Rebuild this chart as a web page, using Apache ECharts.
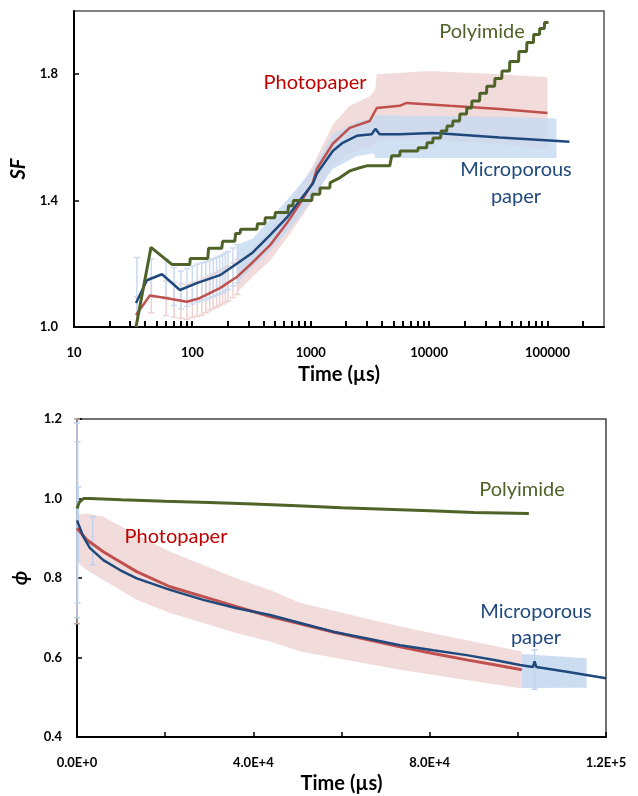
<!DOCTYPE html>
<html>
<head>
<meta charset="utf-8">
<script src="https://cdn.jsdelivr.net/npm/echarts@6/dist/echarts.min.js"></script>
<style>
html, body { margin: 0; padding: 0; background: #fff; }
#chart { width: 638px; height: 796px; }
</style>
</head>
<body>
<div id="chart"></div>
<script>
// ---- top panel: SF vs time (log axis, us) ----
var polyT = [33.4, 44.7, 67.1, 95, 96, 135, 137, 177, 180, 228, 232, 252, 256, 350, 355, 409, 413, 497, 502, 640, 650, 705, 715, 1019, 1030, 1191, 1200, 1446, 1460, 1757, 2134, 2592, 2971, 4645, 4830, 5641, 5700, 8000, 8100, 9530, 9600, 10700, 10800, 12500, 12600, 14060, 14200, 15800, 15900, 18080, 18200, 20710, 20800, 22840, 23000, 26690, 26800, 30550, 30700, 35730, 36000, 41000, 41300, 47780, 48000, 57000, 57300, 66500, 67000, 76000, 76500, 85560, 86000, 94000, 94500, 101900];
var polySF = [1.0, 1.252, 1.198, 1.198, 1.217, 1.217, 1.249, 1.249, 1.271, 1.271, 1.296, 1.296, 1.309, 1.309, 1.327, 1.327, 1.346, 1.346, 1.362, 1.362, 1.384, 1.384, 1.40, 1.40, 1.42, 1.42, 1.44, 1.44, 1.457, 1.472, 1.494, 1.504, 1.51, 1.51, 1.542, 1.542, 1.557, 1.557, 1.567, 1.567, 1.583, 1.583, 1.598, 1.598, 1.62, 1.62, 1.636, 1.636, 1.652, 1.652, 1.674, 1.674, 1.693, 1.693, 1.715, 1.715, 1.74, 1.74, 1.762, 1.762, 1.786, 1.786, 1.81, 1.81, 1.84, 1.84, 1.872, 1.872, 1.90, 1.90, 1.926, 1.926, 1.945, 1.945, 1.964, 1.964];

var microT = [33.4, 41.3, 55.3, 78.5, 109, 171, 237, 324, 451, 627, 807, 1040, 1124, 1534, 1863, 2445, 3270, 3515, 3820, 5640, 10700, 13000, 39400, 104000, 153000];
var microSF = [1.076, 1.148, 1.167, 1.117, 1.139, 1.164, 1.20, 1.236, 1.29, 1.346, 1.40, 1.453, 1.485, 1.557, 1.583, 1.605, 1.61, 1.627, 1.61, 1.61, 1.614, 1.612, 1.60, 1.59, 1.586];

var photoT = [33.4, 43.8, 61, 90, 115, 171, 237, 324, 451, 627, 807, 1040, 1124, 1534, 2134, 3150, 3610, 5640, 6440, 14900, 39400, 100000];
var photoSF = [1.038, 1.10, 1.091, 1.08, 1.091, 1.123, 1.158, 1.205, 1.258, 1.328, 1.39, 1.457, 1.50, 1.58, 1.63, 1.652, 1.693, 1.70, 1.709, 1.70, 1.69, 1.677];

// error bars (sparse, early times) and dense error region
var photoBarT = [34, 45, 60, 70, 80, 90, 100, 110, 120, 130, 140, 150, 160, 170, 180, 190, 200, 220, 240];
var photoBarLo = [0.985, 1.045, 1.036, 1.031, 1.027, 1.025, 1.03, 1.034, 1.038, 1.045, 1.052, 1.058, 1.063, 1.068, 1.073, 1.078, 1.083, 1.093, 1.103];
var photoBarHi = [1.095, 1.155, 1.146, 1.141, 1.137, 1.135, 1.14, 1.144, 1.148, 1.155, 1.162, 1.168, 1.173, 1.178, 1.183, 1.188, 1.193, 1.203, 1.213];
var microBarT = [34, 45, 60, 70, 80, 90, 100, 110, 120, 130, 140, 150, 160, 170, 180, 190, 200, 220, 240];
var microBarLo = [0.95, 1.095, 1.095, 1.068, 1.057, 1.065, 1.073, 1.079, 1.083, 1.087, 1.092, 1.096, 1.10, 1.104, 1.109, 1.114, 1.119, 1.13, 1.14];
var microBarHi = [1.22, 1.215, 1.215, 1.188, 1.177, 1.185, 1.193, 1.199, 1.203, 1.207, 1.212, 1.216, 1.22, 1.224, 1.229, 1.234, 1.239, 1.25, 1.26];

var photoBandT = [240, 324, 451, 627, 807, 1040, 1534, 2134, 3150, 3500, 3600, 10000, 40000, 100000];
var photoBandLo = [1.11, 1.16, 1.21, 1.28, 1.34, 1.40, 1.51, 1.55, 1.57, 1.58, 1.59, 1.59, 1.58, 1.56];
var photoBandHi = [1.21, 1.25, 1.31, 1.38, 1.44, 1.51, 1.64, 1.70, 1.73, 1.75, 1.80, 1.81, 1.80, 1.79];
var microBandT = [240, 324, 451, 627, 807, 1040, 1534, 2445, 3400, 3520, 40000, 119000];
var microBandLo = [1.14, 1.19, 1.24, 1.30, 1.35, 1.41, 1.50, 1.54, 1.55, 1.535, 1.535, 1.535];
var microBandHi = [1.26, 1.28, 1.34, 1.40, 1.45, 1.50, 1.61, 1.65, 1.66, 1.67, 1.665, 1.66];

// ---- bottom panel: phi vs time (linear, us) ----
var polyT2 = [0, 500, 1500, 3000, 10000, 20000, 30000, 40000, 50000, 60000, 70000, 80000, 90000, 102500];
var polyPhi = [0.975, 0.99, 1.0, 1.0, 0.997, 0.993, 0.99, 0.986, 0.982, 0.977, 0.973, 0.969, 0.965, 0.962];

var microT2 = [0, 300, 1430, 2950, 5970, 9750, 13540, 21100, 28650, 36230, 43780, 50600, 58100, 65800, 73270, 80800, 88400, 95000, 100500, 103400, 103800, 104200, 111100, 120000];
var microPhi = [0.945, 0.94, 0.904, 0.875, 0.845, 0.82, 0.799, 0.77, 0.745, 0.724, 0.707, 0.687, 0.665, 0.648, 0.631, 0.618, 0.606, 0.593, 0.581, 0.576, 0.59, 0.576, 0.564, 0.548];

var photoT2 = [0, 2200, 5970, 9750, 13540, 21100, 28650, 36230, 43780, 50600, 58100, 65800, 73270, 80800, 88400, 95000, 100900];
var photoPhi = [0.925, 0.896, 0.866, 0.841, 0.816, 0.778, 0.753, 0.728, 0.703, 0.685, 0.664, 0.645, 0.627, 0.61, 0.594, 0.581, 0.569];

var photoBand2T = [0, 2200, 5970, 13540, 21100, 28650, 36230, 43780, 50600, 73270, 100900];
var photoBand2Lo = [0.84, 0.82, 0.795, 0.745, 0.712, 0.687, 0.661, 0.64, 0.615, 0.569, 0.522];
var photoBand2Hi = [0.96, 0.962, 0.954, 0.908, 0.866, 0.833, 0.799, 0.77, 0.738, 0.678, 0.615];
var microBand2T = [100900, 115600];
var microBand2Lo = [0.523, 0.524];
var microBand2Hi = [0.609, 0.598];

var photoBar2T = [0];
var photoBar2Lo = [0.685];
var photoBar2Hi = [1.2];
var microBar2T = [0, 150, 300, 3560, 103800];
var microBar2Lo = [0.70, 0.737, 0.845, 0.833, 0.52];
var microBar2Hi = [1.19, 1.142, 1.029, 0.954, 0.619];

var GREEN = '#4F6228';
var RED = '#C0504D';
var BLUE = '#1F497D';
var PINK = '#F2DCDB';
var LIGHTBLUE = '#C6D9F1';
var FONT = 'Lato, "Open Sans", sans-serif';

function zip(a, b) {
  return a.map(function (v, i) { return [v, b[i]]; });
}
function errData(t, lo, hi) {
  return t.map(function (v, i) { return [v, lo[i], hi[i]]; });
}

function errBarItem(params, api) {
  var x = api.value(0);
  var lo = api.coord([x, api.value(1)]);
  var hi = api.coord([x, api.value(2)]);
  var c = api.visual('color');
  var w = 3;
  var st = { stroke: c, lineWidth: 1.5 };
  return {
    type: 'group',
    children: [
      { type: 'line', shape: { x1: lo[0], y1: lo[1], x2: hi[0], y2: hi[1] }, style: st },
      { type: 'line', shape: { x1: lo[0] - w, y1: lo[1], x2: lo[0] + w, y2: lo[1] }, style: st },
      { type: 'line', shape: { x1: hi[0] - w, y1: hi[1], x2: hi[0] + w, y2: hi[1] }, style: st }
    ]
  };
}

// shaded error region: one polygon through the band edges
function bandSeries(t, lo, hi, color, opacity, ax) {
  return {
    type: 'custom', xAxisIndex: ax, yAxisIndex: ax, silent: true, clip: true, z: 1,
    encode: { x: 0, y: 1 },
    data: [[t[0], lo[0]]],
    renderItem: function (params, api) {
      var pts = [];
      var i;
      for (i = 0; i < t.length; i++) pts.push(api.coord([t[i], hi[i]]));
      for (i = t.length - 1; i >= 0; i--) pts.push(api.coord([t[i], lo[i]]));
      return { type: 'polygon', shape: { points: pts }, style: { fill: color, opacity: opacity } };
    }
  };
}

// log ticks (decades and 2..9 minors) for the top time axis
var logTicks = [];
for (var d = 10; d <= 100000; d *= 10) {
  for (var m = 1; m <= 9; m++) {
    if (d * m < 300000) logTicks.push([d * m, 1]);
  }
}

function sciLabel(v) {
  if (v % 40000 !== 0) return '';
  if (v === 0) return '0.0E+0';
  var e = Math.floor(Math.log10(v));
  return (v / Math.pow(10, e)).toFixed(1) + 'E+' + e;
}

var axisLabelStyle = { color: '#000', fontFamily: FONT, fontSize: 13, fontWeight: 'bold' };
var axisNameStyle = { color: '#000', fontFamily: FONT, fontSize: 20, fontWeight: 'bold' };
var axisLineStyle = { show: true, onZero: false, lineStyle: { color: '#000', width: 2 } };
var tickStyle = { show: true, inside: true, length: 5, lineStyle: { color: '#000', width: 1.5 } };

var myChart = echarts.init(document.getElementById('chart'));

var series = [
  bandSeries(photoBandT, photoBandLo, photoBandHi, PINK, 1, 0),
  bandSeries(microBandT, microBandLo, microBandHi, LIGHTBLUE, 0.8, 0),
  bandSeries(photoBand2T, photoBand2Lo, photoBand2Hi, PINK, 1, 1),
  bandSeries(microBand2T, microBand2Lo, microBand2Hi, LIGHTBLUE, 0.9, 1),
  {
    type: 'custom', xAxisIndex: 0, yAxisIndex: 0, renderItem: errBarItem, clip: true, z: 2,
    itemStyle: { color: '#F0CFCF' }, encode: { x: 0, y: [1, 2] },
    data: errData(photoBarT, photoBarLo, photoBarHi)
  },
  {
    type: 'custom', xAxisIndex: 0, yAxisIndex: 0, renderItem: errBarItem, clip: true, z: 2,
    itemStyle: { color: '#C9DAF0' }, encode: { x: 0, y: [1, 2] },
    data: errData(microBarT, microBarLo, microBarHi)
  },
  {
    type: 'custom', xAxisIndex: 1, yAxisIndex: 1, renderItem: errBarItem, clip: false, z: 2,
    itemStyle: { color: '#C9A9A8' }, encode: { x: 0, y: [1, 2] },
    data: errData(photoBar2T, photoBar2Lo, photoBar2Hi)
  },
  {
    type: 'custom', xAxisIndex: 1, yAxisIndex: 1, renderItem: errBarItem, clip: false, z: 2,
    itemStyle: { color: '#BFD3EE' }, encode: { x: 0, y: [1, 2] },
    data: errData(microBar2T, microBar2Lo, microBar2Hi)
  },
  {
    type: 'custom', xAxisIndex: 0, yAxisIndex: 0, silent: true, clip: false, z: 20,
    itemStyle: { color: '#000' },
    renderItem: function (params, api) {
      var p = api.coord([api.value(0), api.value(1)]);
      return {
        type: 'rect',
        shape: { x: Math.round(p[0]) - 1, y: Math.round(p[1]) - 6, width: 2, height: 6 },
        style: { fill: '#000' }
      };
    },
    encode: { x: 0, y: 1 },
    data: logTicks
  },
  // top lines
  {
    name: 'Photopaper', type: 'line', xAxisIndex: 0, yAxisIndex: 0, data: zip(photoT, photoSF),
    symbol: 'none', z: 3, lineStyle: { color: RED, width: 2.5 }
  },
  {
    name: 'Microporous paper', type: 'line', xAxisIndex: 0, yAxisIndex: 0, data: zip(microT, microSF),
    symbol: 'none', z: 3, lineStyle: { color: BLUE, width: 2.5 }
  },
  {
    name: 'Polyimide', type: 'line', xAxisIndex: 0, yAxisIndex: 0, data: zip(polyT, polySF),
    symbol: 'none', z: 3, lineStyle: { color: GREEN, width: 3 }
  },
  // bottom lines
  {
    name: 'Photopaper', type: 'line', xAxisIndex: 1, yAxisIndex: 1, data: zip(photoT2, photoPhi),
    symbol: 'none', z: 3, lineStyle: { color: RED, width: 3 }
  },
  {
    name: 'Microporous paper', type: 'line', xAxisIndex: 1, yAxisIndex: 1, data: zip(microT2, microPhi),
    symbol: 'none', z: 3, lineStyle: { color: BLUE, width: 2.5 }
  },
  {
    name: 'Polyimide', type: 'line', xAxisIndex: 1, yAxisIndex: 1, data: zip(polyT2, polyPhi),
    symbol: 'none', z: 3, lineStyle: { color: GREEN, width: 3 }
  }
];

function txt(x, y, s, color) {
  return {
    type: 'text', x: x, y: y, z: 10,
    style: { text: s, fill: color, font: '20px ' + FONT, align: 'center', verticalAlign: 'middle' }
  };
}

var option = {
  animation: false,
  backgroundColor: '#fff',
  grid: [
    { left: 74, top: 11, width: 530, height: 316, show: true, borderColor: '#555', borderWidth: 1.5, backgroundColor: 'transparent' },
    { left: 77, top: 419, width: 529, height: 318, show: true, borderColor: '#444', borderWidth: 1.5, backgroundColor: 'transparent' }
  ],
  xAxis: [
    {
      gridIndex: 0, type: 'log', logBase: 10, min: 10, max: 300000,
      axisLine: axisLineStyle, axisTick: { show: false }, splitLine: { show: false },
      axisLabel: Object.assign({
        margin: 19,
        formatter: function (v) {
          var l = Math.log10(v);
          return Math.abs(l - Math.round(l)) < 1e-6 ? String(Math.round(v)) : '';
        }
      }, axisLabelStyle),
      name: 'Time (µs)', nameLocation: 'middle', nameGap: 38, nameTextStyle: axisNameStyle
    },
    {
      gridIndex: 1, type: 'value', min: 0, max: 120000, interval: 20000,
      axisLine: axisLineStyle, axisTick: tickStyle, splitLine: { show: false },
      axisLabel: Object.assign({ margin: 19, formatter: sciLabel }, axisLabelStyle),
      name: 'Time (µs)', nameLocation: 'middle', nameGap: 37, nameTextStyle: axisNameStyle
    }
  ],
  yAxis: [
    {
      gridIndex: 0, type: 'value', min: 1.0, max: 2.0, interval: 0.4,
      axisLine: axisLineStyle, axisTick: tickStyle, splitLine: { show: false },
      axisLabel: Object.assign({ margin: 16, showMaxLabel: false, formatter: function (v) { return v.toFixed(1); } }, axisLabelStyle),
      name: 'SF', nameLocation: 'middle', nameGap: 44, nameRotate: 90,
      nameTextStyle: Object.assign({}, axisNameStyle, { fontStyle: 'italic', fontSize: 20 })
    },
    {
      gridIndex: 1, type: 'value', min: 0.4, max: 1.2, interval: 0.2,
      axisLine: axisLineStyle, axisTick: tickStyle, splitLine: { show: false },
      axisLabel: Object.assign({ margin: 15, formatter: function (v) { return v.toFixed(1); } }, axisLabelStyle),
      name: 'ϕ', nameLocation: 'middle', nameGap: 46, nameRotate: 90,
      nameTextStyle: Object.assign({}, axisNameStyle, { fontStyle: 'italic', fontSize: 20 })
    }
  ],
  graphic: [
    txt(482, 32, 'Polyimide', GREEN),
    txt(315, 83, 'Photopaper', '#C00000'),
    txt(516, 170, 'Microporous', BLUE),
    txt(516, 197, 'paper', BLUE),
    txt(522, 490, 'Polyimide', GREEN),
    txt(176, 537, 'Photopaper', '#C00000'),
    txt(536, 612, 'Microporous', BLUE),
    txt(536, 638, 'paper', BLUE)
  ],
  series: series
};

myChart.setOption(option);
</script>
</body>
</html>
